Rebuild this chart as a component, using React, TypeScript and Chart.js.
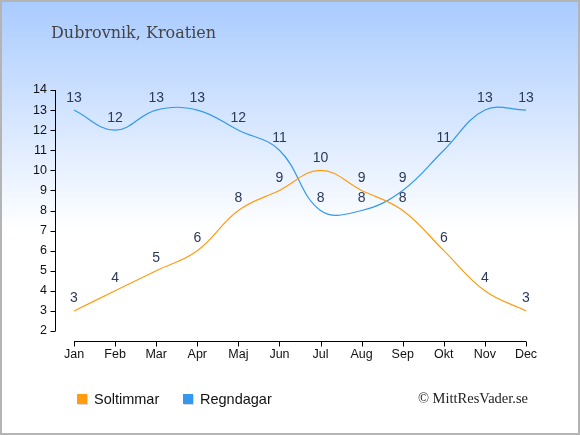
import { useEffect, useRef } from 'react';
import { Chart, registerables, Plugin } from 'chart.js';

Chart.register(...registerables);

const months = ['Jan', 'Feb', 'Mar', 'Apr', 'Maj', 'Jun', 'Jul', 'Aug', 'Sep', 'Okt', 'Nov', 'Dec'];
const soltimmar = [3, 4, 5, 6, 8, 9, 10, 9, 8, 6, 4, 3];
const regndagar = [13, 12, 13, 13, 12, 11, 8, 8, 9, 11, 13, 13];

const ORANGE = '#ff9c10';
const BLUE = '#3399ee';
const LABEL_COLOR = '#2b3a5a';

// background, frame, texts, axis lines and point labels
const decorations: Plugin<'line'> = {
  id: 'decorations',
  beforeDraw(chart) {
    const { ctx, width, height } = chart;
    ctx.save();
    const g = ctx.createLinearGradient(0, 0, 0, 230);
    g.addColorStop(0, '#a9cbff');
    g.addColorStop(1, '#ffffff');
    ctx.fillStyle = g;
    ctx.fillRect(0, 0, width, height);
    ctx.restore();
  },
  afterDraw(chart) {
    const { ctx, width, height } = chart;
    const x = chart.scales.x;
    const y = chart.scales.y;
    ctx.save();

    // axes
    ctx.strokeStyle = '#000';
    ctx.lineWidth = 1;
    const yAxisX = 55.5;
    const xAxisY = 341.5;
    ctx.beginPath();
    ctx.moveTo(yAxisX, y.getPixelForValue(14));
    ctx.lineTo(yAxisX, y.getPixelForValue(2));
    for (let v = 2; v <= 14; v++) {
      const py = Math.round(y.getPixelForValue(v)) + 0.5;
      ctx.moveTo(yAxisX - 5, py);
      ctx.lineTo(yAxisX, py);
    }
    ctx.moveTo(x.getPixelForValue(0), xAxisY);
    ctx.lineTo(x.getPixelForValue(months.length - 1), xAxisY);
    for (let i = 0; i < months.length; i++) {
      const px = Math.round(x.getPixelForValue(i)) + 0.5;
      ctx.moveTo(px, xAxisY);
      ctx.lineTo(px, xAxisY + 5);
    }
    ctx.stroke();

    // point labels
    ctx.font = '14px "Liberation Sans", Arial, sans-serif';
    ctx.fillStyle = LABEL_COLOR;
    ctx.textAlign = 'center';
    ctx.textBaseline = 'alphabetic';
    chart.data.datasets.forEach((ds, di) => {
      const meta = chart.getDatasetMeta(di);
      meta.data.forEach((pt, i) => {
        ctx.fillText(String(ds.data[i]), pt.x, pt.y - 8.5);
      });
    });

    // title
    ctx.textAlign = 'left';
    ctx.fillStyle = '#444';
    ctx.font = '16px "DejaVu Serif", serif';
    ctx.fillText('Dubrovnik, Kroatien', 51, 38);

    // legend
    ctx.font = '14.5px "Liberation Sans", Arial, sans-serif';
    const items = [
      { label: chart.data.datasets[0].label as string, color: ORANGE, x: 77 },
      { label: chart.data.datasets[1].label as string, color: BLUE, x: 183 },
    ];
    items.forEach((it) => {
      ctx.fillStyle = 'rgba(0,0,0,0.15)';
      ctx.fillRect(it.x + 1, 395, 10, 10);
      ctx.fillStyle = it.color;
      ctx.fillRect(it.x, 394, 10, 10);
      ctx.fillStyle = '#111';
      ctx.fillText(it.label, it.x + 17, 404);
    });

    // copyright
    ctx.font = '14.5px "Liberation Serif", serif';
    ctx.fillStyle = '#222';
    ctx.textAlign = 'right';
    ctx.fillText('© MittResVader.se', 528, 403);

    // frame
    ctx.strokeStyle = '#b4b4b4';
    ctx.lineWidth = 2;
    ctx.strokeRect(1, 1, width - 2, height - 2);
    ctx.restore();
  },
};

export default function App() {
  const canvasRef = useRef<HTMLCanvasElement>(null);

  useEffect(() => {
    document.body.style.margin = '0';
    if (!canvasRef.current) return;
    const chart = new Chart(canvasRef.current, {
      type: 'line',
      data: {
        labels: months,
        datasets: [
          {
            label: 'Soltimmar',
            data: soltimmar,
            borderColor: ORANGE,
            borderWidth: 1.2,
            pointRadius: 0,
            tension: 0.4,
            fill: false,
          },
          {
            label: 'Regndagar',
            data: regndagar,
            borderColor: BLUE,
            borderWidth: 1.2,
            pointRadius: 0,
            tension: 0.4,
            fill: false,
          },
        ],
      },
      options: {
        responsive: false,
        animation: false,
        devicePixelRatio: 1,
        layout: { padding: { top: 90, right: 54, bottom: 0, left: 0 } },
        plugins: {
          legend: { display: false },
          title: { display: false },
          tooltip: { enabled: false },
        },
        scales: {
          x: {
            offset: false,
            grid: { display: false, drawTicks: false },
            border: { display: false },
            ticks: {
              color: '#111',
              font: { family: '"Liberation Sans", Arial, sans-serif', size: 12.5 },
              padding: 16,
              maxRotation: 0,
            },
            afterFit: (s) => {
              s.height = 104;
            },
          },
          y: {
            min: 2,
            max: 14,
            grid: { display: false, drawTicks: false },
            border: { display: false },
            ticks: {
              stepSize: 1,
              color: '#111',
              font: { family: '"Liberation Sans", Arial, sans-serif', size: 12.5 },
              padding: 27,
            },
            afterFit: (s) => {
              s.width = 74;
            },
          },
        },
      },
      plugins: [decorations],
    });
    return () => chart.destroy();
  }, []);

  return <canvas ref={canvasRef} width={580} height={435} style={{ display: 'block' }} />;
}
